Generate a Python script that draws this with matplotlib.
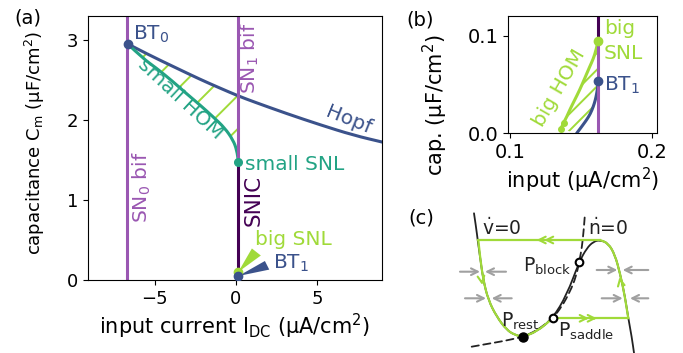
import numpy as np
import matplotlib
matplotlib.use("Agg")
from matplotlib import pyplot as plt
from matplotlib.path import Path
from matplotlib.patches import PathPatch, Polygon

# colours
c_sn = '#9a57b2'
c_snic = '#440154'
c_hopf = '#3b528b'
c_small = '#22a384'
c_big = '#a0da39'
c_gray = '#a0a0a0'
c_null = '#222222'

# ---- panel (a) data: input current I (uA/cm2) vs capacitance C (uF/cm2)
sn0_I = -6.67
sn1_I = 0.16
bt0 = (-6.65, 2.95)
small_snl = (0.16, 1.475)
big_snl_a = (0.16, 0.10)
bt1_a = (0.16, 0.05)

hopf_I = [-6.65, -5.31, -3.87, -2.22, -0.99, 0.16, 1.07, 3.13, 5.19, 7.24, 9.1]
hopf_C = [2.95, 2.81, 2.67, 2.51, 2.40, 2.30, 2.23, 2.08, 1.94, 1.81, 1.72]

small_hom_I = [-6.65, -5.72, -4.9, -3.87, -3.04, -2.22, -1.4, -0.68, -0.17, 0.06, 0.16]
small_hom_C = [2.95, 2.77, 2.65, 2.48, 2.33, 2.19, 2.04, 1.90, 1.75, 1.625, 1.475]

# zoom wedges (tip, corner, corner)
wedge_big = [(0.15, 0.10), (0.99, 0.394), (1.54, 0.306)]
wedge_bt1 = [(0.16, 0.05), (1.79, 0.2375), (2.06, 0.13)]

# ---- panel (b) data (zoom)
sn_b = 0.162
big_snl_b = (0.162, 0.0948)
bt1_b = (0.162, 0.0535)
hopf_b_I = [0.1469, 0.1490, 0.1515, 0.1540, 0.1565, 0.1585, 0.1600, 0.1610, 0.1617, 0.1620]
hopf_b_C = [0.0, 0.004, 0.009, 0.014, 0.020, 0.027, 0.034, 0.041, 0.048, 0.0535]
big_hom_I = [0.1620, 0.1605, 0.1585, 0.1560, 0.1525, 0.1490, 0.1455, 0.1420, 0.1400, 0.1378]
big_hom_C = [0.0948, 0.0850, 0.0760, 0.0680, 0.0560, 0.0443, 0.0340, 0.0238, 0.0170, 0.0110]
big_hom_tail_I = [0.1378, 0.1358]
big_hom_tail_C = [0.0110, 0.0045]

# ---- panel (c) schematic (sketch units)
v_null = [(474.0, 213.3), (476.0, 226.7), (477.7, 240.0), (480.0, 256.7), (483.3, 280.0),
          (488.3, 300.0), (496.7, 316.7), (506.7, 330.0), (515.0, 335.0), (522.7, 336.7),
          (536.7, 331.7), (552.7, 318.3), (566.7, 295.0), (579.3, 261.7), (586.7, 248.3),
          (593.3, 241.7), (600.0, 240.0), (608.3, 243.3), (615.0, 255.0), (620.0, 273.3),
          (625.0, 296.7), (628.3, 318.3), (631.7, 336.7), (634.3, 355.0)]
n_null = [(471.7, 346.7), (486.7, 344.0), (500.0, 341.7), (513.3, 339.0), (522.7, 336.7),
          (536.7, 330.7), (552.7, 318.3), (561.7, 306.7), (570.0, 291.7), (576.0, 276.7),
          (579.3, 261.7), (582.0, 246.7), (583.7, 230.0), (585.0, 213.3)]
traj_down = [(478.3, 240.0), (480.0, 256.7), (483.3, 280.0), (488.3, 300.0), (496.7, 316.7),
             (506.7, 330.0), (515.0, 335.0), (522.7, 336.7), (536.7, 331.7), (552.7, 318.3)]
traj_up = [(628.3, 318.3), (625.0, 296.7), (620.0, 273.3), (615.0, 255.0), (608.3, 243.3),
           (600.0, 240.0)]
traj_top = [(600.0, 240.0), (478.3, 240.0)]
traj_bottom = [(552.7, 318.3), (628.3, 318.3)]
p_rest = (522.7, 336.7)
p_saddle = (552.7, 318.3)
p_block = (579.3, 261.7)
gray_arrows = [((460, 271.7), (480, 271.7)), ((506, 271.7), (485, 271.7)),
               ((465, 298.3), (486, 298.3)), ((511.7, 298.3), (491.7, 298.3)),
               ((596.7, 270), (617.3, 270)), ((648.3, 270), (622.7, 270)),
               ((601.7, 298.3), (622.7, 298.3)), ((648.3, 298.3), (630, 298.3))]

fs_note = 14.5


def smooth_path(pts):
    pts = np.asarray(pts, float)
    verts = [pts[0]]
    codes = [Path.MOVETO]
    for i in range(1, len(pts) - 1):
        verts += [pts[i], (pts[i] + pts[i + 1]) / 2]
        codes += [Path.CURVE3, Path.CURVE3]
    verts.append(pts[-1])
    codes.append(Path.LINETO)
    return Path(verts, codes)


def curve(ax, pts, **kw):
    ax.add_patch(PathPatch(smooth_path(pts), fill=False, capstyle='round', **kw))


def chevron(ax, tip, direction, color, n=1, gap=7, ms=12):
    d = np.array(direction, float)
    d /= np.linalg.norm(d)
    for k in range(n):
        t = np.array(tip, float) - k * gap * d
        ax.annotate('', xy=t, xytext=t - 4 * d,
                    arrowprops=dict(arrowstyle='->', color=color, lw=1.5,
                                    mutation_scale=ms, shrinkA=0, shrinkB=0))


plt.rcParams['font.size'] = 12
plt.rcParams['hatch.linewidth'] = 1.4
fig = plt.figure(figsize=(6.83, 3.53), dpi=100)

# ================= panel (a)
ax = fig.add_axes([88 / 683, 73 / 353, 294 / 683, 264 / 353])
ax.set_xlim(-9.1, 9.0)
ax.set_ylim(0, 3.3)

k = hopf_I.index(sn1_I)
hatch_pts = list(zip(hopf_I[:k + 1], hopf_C[:k + 1])) + \
    list(zip(small_hom_I[::-1], small_hom_C[::-1]))
ax.add_patch(Polygon(hatch_pts, closed=True, facecolor='none', edgecolor=c_big,
                     lw=0, hatch='/'))

ax.axvline(sn0_I, color=c_sn, lw=2.2)
ax.vlines(sn1_I, small_snl[1], 3.4, color=c_sn, lw=2.2)
ax.vlines(sn1_I, 0, big_snl_a[1], color=c_sn, lw=2.2)
ax.vlines(sn1_I, big_snl_a[1], small_snl[1], color=c_snic, lw=2.2)
curve(ax, list(zip(hopf_I, hopf_C)), color=c_hopf, lw=2.2)
curve(ax, list(zip(small_hom_I, small_hom_C)), color=c_small, lw=2.2)

ax.add_patch(Polygon(wedge_big, closed=True, color=c_big, lw=0))
ax.add_patch(Polygon(wedge_bt1, closed=True, color=c_hopf, lw=0))
ax.plot(*bt0, 'o', color=c_hopf, ms=6, zorder=5)
ax.plot(*small_snl, 'o', color=c_small, ms=5.5, zorder=5)
ax.plot(*big_snl_a, 'o', color=c_big, ms=6, zorder=5)
ax.plot(*bt1_a, 'o', color=c_hopf, ms=6, zorder=5)

ax.text(-6.34, 3.0, r'BT$_0$', color=c_hopf, va='baseline', fontsize=fs_note)
ax.text(0.56, 1.375, 'small SNL', color=c_small, va='baseline', fontsize=fs_note)
ax.text(1.17, 0.4375, 'big SNL', color=c_big, va='baseline', fontsize=fs_note)
ax.text(2.3, 0.146, r'BT$_1$', color=c_hopf, va='baseline', fontsize=fs_note)
ax.text(-3.41, 2.26, 'small HOM', color=c_small, rotation=-43, fontsize=fs_note,
        ha='center', va='center', rotation_mode='anchor')
ax.text(6.93, 2.0, 'Hopf', color=c_hopf, rotation=-22, fontsize=fs_note,
        ha='center', va='center', rotation_mode='anchor')
ax.text(-5.77, 1.156, r'SN$_0$ bif', color=c_sn, rotation=90, ha='center', va='center',
        fontsize=fs_note)
ax.text(0.86, 2.77, r'SN$_1$ bif', color=c_sn, rotation=90, ha='center', va='center',
        fontsize=fs_note)
ax.text(1.07, 1.0, 'SNIC', color=c_snic, rotation=90, ha='center', va='center',
        fontsize=fs_note + 1)

ax.set_xticks([-5, 0, 5])
ax.set_yticks([0, 1, 2, 3])
ax.tick_params(labelsize=13)
ax.set_xlabel(r'input current I$_\mathrm{DC}$ (μA/cm$^2$)', fontsize=15, labelpad=3)
ax.set_ylabel(r'capacitance C$_\mathrm{m}$ (μF/cm$^2$)', fontsize=13)
ax.yaxis.set_label_coords(-0.14, 0.52)

# ================= panel (b)
bx = fig.add_axes([508.3 / 683, (353 - 133.3) / 353, 148.4 / 683, 117.3 / 353])
bx.set_xlim(0.099, 0.203)
bx.set_ylim(0, 0.12)

hatch_b = list(zip(big_hom_I, big_hom_C)) + list(zip(big_hom_tail_I[1:], big_hom_tail_C[1:])) + \
    list(zip(hopf_b_I, hopf_b_C))
bx.add_patch(Polygon(hatch_b, closed=True, facecolor='none', edgecolor=c_big,
                     lw=0, hatch='//'))
bx.vlines(sn_b, 0, big_snl_b[1], color=c_sn, lw=2.2)
bx.vlines(sn_b, big_snl_b[1], 0.13, color=c_snic, lw=2.2)
curve(bx, list(zip(hopf_b_I, hopf_b_C)), color=c_hopf, lw=2.2)
curve(bx, list(zip(big_hom_I, big_hom_C)), color=c_big, lw=2.2)
bx.plot(big_hom_tail_I, big_hom_tail_C, '-o', color=c_big, lw=2.2, ms=4)
bx.plot(*big_snl_b, 'o', color=c_big, ms=6, zorder=5)
bx.plot(*bt1_b, 'o', color=c_hopf, ms=6, zorder=5)

bx.text(0.166, 0.1013, 'big', color=c_big, va='baseline', fontsize=fs_note)
bx.text(0.166, 0.0757, 'SNL', color=c_big, va='baseline', fontsize=fs_note)
bx.text(0.166, 0.0436, r'BT$_1$', color=c_hopf, va='baseline', fontsize=fs_note)
bx.text(0.1345, 0.046, 'big HOM', color=c_big, rotation=60, fontsize=fs_note,
        ha='center', va='center', rotation_mode='anchor')

bx.set_xticks([0.1, 0.2])
bx.set_xticklabels(['0.1', '0.2'])
bx.set_yticks([0.0, 0.1])
bx.set_yticklabels(['0.0', '0.1'])
bx.tick_params(labelsize=14)
bx.set_xlabel('input (μA/cm$^2$)', fontsize=15, labelpad=3)
bx.set_ylabel('cap. (μF/cm$^2$)', fontsize=15)
bx.yaxis.set_label_coords(-0.39, 0.24)

# ================= panel (c)
cx = fig.add_axes([440 / 683, 0, 243 / 683, 153 / 353])
cx.set_xlim(440, 683)
cx.set_ylim(353, 200)
cx.axis('off')

curve(cx, v_null, color=c_null, lw=1.3)
curve(cx, n_null, color=c_null, lw=1.3, linestyle=(0, (4, 2.5)))
cx.plot(*zip(*traj_top), color=c_big, lw=1.6)
cx.plot(*zip(*traj_bottom), color=c_big, lw=1.6)
curve(cx, traj_down, color=c_big, lw=1.6)
curve(cx, traj_up, color=c_big, lw=1.6)

chevron(cx, (536.7, 240), (-1, 0), c_big, n=2, gap=7.5)
chevron(cx, (596.7, 318.3), (1, 0), c_big, n=2, gap=8)
chevron(cx, (482.3, 285), (0.15, 1), c_big)
chevron(cx, (619.5, 277), (-0.2, -1), c_big)
for start, end in gray_arrows:
    cx.annotate('', xy=end, xytext=start,
                arrowprops=dict(arrowstyle='->', color=c_gray, lw=1.5,
                                mutation_scale=12, shrinkA=0, shrinkB=0))

cx.plot(*p_rest, 'o', color='black', ms=6.5, zorder=6)
cx.plot(*p_saddle, 'o', mfc='white', mec='black', mew=1.5, ms=5.5, zorder=6)
cx.plot(*p_block, 'o', mfc='white', mec='black', mew=1.5, ms=5.5, zorder=6)

fs_c = 13.5
cx.text(482, 235, r'$\dot{\mathrm{v}}$=0', color=c_null, va='baseline', fontsize=fs_c)
cx.text(588, 235, r'$\dot{\mathrm{n}}$=0', color=c_null, va='baseline', fontsize=fs_c)
cx.text(571, 271.7, r'P$_\mathrm{block}$', color=c_null, ha='right', va='baseline', fontsize=fs_c)
cx.text(501, 326.7, r'P$_\mathrm{rest}$', color=c_null, va='baseline', fontsize=fs_c)
cx.text(558, 336.7, r'P$_\mathrm{saddle}$', color=c_null, va='baseline', fontsize=fs_c)

fig.text(28 / 683, 1 - 18 / 353, '(a)', ha='center', va='center', fontsize=14)
fig.text(420 / 683, 1 - 20 / 353, '(b)', ha='center', va='center', fontsize=14)
fig.text(421 / 683, 1 - 218 / 353, '(c)', ha='center', va='center', fontsize=14)

fig.savefig('out.png', dpi=100)
